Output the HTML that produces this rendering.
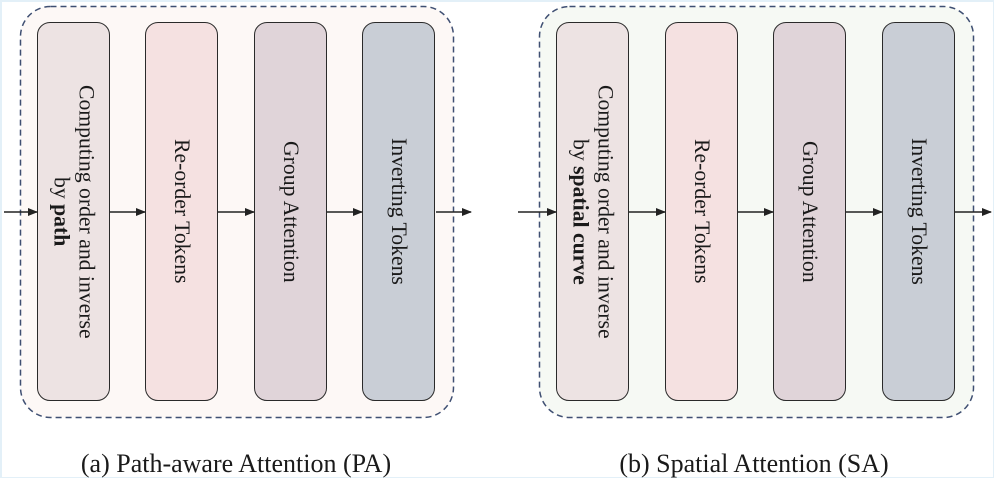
<!DOCTYPE html>
<html><head><style>
html,body{margin:0;padding:0}
body{width:996px;height:480px;position:relative;background:#fff;font-family:"Liberation Serif",serif;overflow:hidden}
.frame{position:absolute;left:0;top:0;width:994px;height:478px;border:1px solid #e3f0f8;border-width:2px 1px 1px 2px;box-sizing:border-box}
.box{position:absolute;top:22px;height:379px;width:73px;border:1.6px solid #2a2a2a;border-radius:13px;box-sizing:border-box;display:flex;align-items:center;justify-content:center}
.t{writing-mode:vertical-rl;font-size:21.7px;color:#1a1a1a;text-align:center;line-height:25px;white-space:nowrap}
.cap{position:absolute;top:449px;font-size:26px;color:#1a1a1a;white-space:nowrap;transform:translateX(-50%)}
</style></head><body>
<div class="frame"></div>
<svg width="996" height="480" style="position:absolute;left:0;top:0">
<rect x="20.5" y="6.5" width="433" height="411" rx="30" fill="#fdf8f6" stroke="#3f4f72" stroke-width="1.5" stroke-dasharray="6,4"/>
<rect x="539.5" y="6.5" width="434" height="411" rx="30" fill="#f6f9f4" stroke="#3f4f72" stroke-width="1.5" stroke-dasharray="6,4"/>
</svg>

<div class="box" style="left:37px;background:#ede3e3"><div class="t">Computing order and inverse<br>by <b>path</b></div></div>
<div class="box" style="left:145px;background:#f5e1e1"><div class="t">Re-order Tokens</div></div>
<div class="box" style="left:254px;background:#e0d4d9"><div class="t">Group Attention</div></div>
<div class="box" style="left:362px;background:#c9ced6"><div class="t">Inverting Tokens</div></div>

<div class="box" style="left:556px;background:#ede3e3"><div class="t">Computing order and inverse<br>by <b>spatial curve</b></div></div>
<div class="box" style="left:665px;background:#f5e1e1"><div class="t">Re-order Tokens</div></div>
<div class="box" style="left:773px;background:#e0d4d9"><div class="t">Group Attention</div></div>
<div class="box" style="left:882px;background:#c9ced6"><div class="t">Inverting Tokens</div></div>

<svg width="996" height="480" style="position:absolute;left:0;top:0">
<defs><marker id="a" markerWidth="10" markerHeight="8" refX="9" refY="4" orient="auto" markerUnits="userSpaceOnUse"><path d="M0,0 L10,4 L0,8 Z" fill="#222"/></marker></defs>
<g stroke="#222" stroke-width="1.5" marker-end="url(#a)">
<line x1="4" y1="212" x2="37" y2="212"/>
<line x1="110" y1="212" x2="145" y2="212"/>
<line x1="218" y1="212" x2="254" y2="212"/>
<line x1="327" y1="212" x2="362" y2="212"/>
<line x1="436" y1="212" x2="471" y2="212"/>
<line x1="518" y1="212" x2="556" y2="212"/>
<line x1="629" y1="212" x2="665" y2="212"/>
<line x1="738" y1="212" x2="773" y2="212"/>
<line x1="846" y1="212" x2="882" y2="212"/>
<line x1="955" y1="212" x2="991" y2="212"/>
</g></svg>

<div class="cap" style="left:236px">(a) Path-aware Attention (PA)</div>
<div class="cap" style="left:754px">(b) Spatial Attention (SA)</div>
</body></html>
